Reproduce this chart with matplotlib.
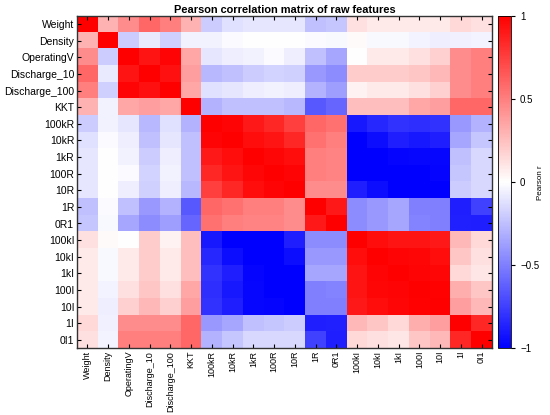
import numpy as np
import matplotlib.pyplot as plt

labels = ["Weight", "Density", "OperatingV", "Discharge_10", "Discharge_100", "KKT",
          "100kR", "10kR", "1kR", "100R", "10R", "1R", "0R1",
          "100kI", "10kI", "1kI", "100I", "10I", "1I", "0I1"]

# Pearson r (rows follow labels)
corr = [
    [1.00, 0.30, 0.45, 0.60, 0.50, 0.30, -0.20, -0.12, -0.10, -0.10, -0.10, -0.25, -0.22, 0.12, 0.08, 0.08, 0.08, 0.08, 0.15, 0.12],
    [0.30, 1.00, -0.20, -0.08, -0.18, -0.05, -0.05, -0.02, 0.00, 0.00, 0.00, -0.02, -0.03, 0.02, -0.03, -0.03, -0.04, -0.07, -0.06, -0.04],
    [0.45, -0.20, 1.00, 0.92, 0.98, 0.35, -0.10, -0.07, -0.05, -0.02, -0.07, -0.25, -0.35, 0.00, 0.08, 0.08, 0.12, 0.18, 0.45, 0.50],
    [0.60, -0.08, 0.92, 1.00, 0.93, 0.38, -0.28, -0.25, -0.20, -0.17, -0.18, -0.40, -0.45, 0.20, 0.20, 0.20, 0.22, 0.28, 0.45, 0.50],
    [0.50, -0.18, 0.98, 0.93, 1.00, 0.35, -0.12, -0.10, -0.07, -0.05, -0.07, -0.30, -0.38, 0.05, 0.08, 0.08, 0.12, 0.18, 0.45, 0.50],
    [0.30, -0.05, 0.35, 0.38, 0.35, 1.00, -0.30, -0.25, -0.25, -0.25, -0.28, -0.65, -0.60, 0.25, 0.25, 0.25, 0.35, 0.38, 0.60, 0.60],
    [-0.20, -0.05, -0.10, -0.28, -0.12, -0.30, 1.00, 0.98, 0.90, 0.85, 0.75, 0.60, 0.55, -0.90, -0.85, -0.80, -0.82, -0.80, -0.40, -0.30],
    [-0.12, -0.02, -0.07, -0.25, -0.10, -0.25, 0.98, 1.00, 0.95, 0.92, 0.85, 0.55, 0.50, -1.00, -0.95, -0.88, -0.90, -0.88, -0.35, -0.22],
    [-0.10, 0.00, -0.05, -0.20, -0.07, -0.25, 0.90, 0.95, 1.00, 0.97, 0.95, 0.50, 0.48, -1.00, -1.00, -0.98, -0.97, -0.97, -0.25, -0.15],
    [-0.10, 0.00, -0.02, -0.17, -0.05, -0.25, 0.85, 0.92, 0.97, 1.00, 0.98, 0.50, 0.48, -1.00, -1.00, -1.00, -1.00, -0.98, -0.22, -0.15],
    [-0.10, 0.00, -0.07, -0.18, -0.07, -0.28, 0.75, 0.85, 0.95, 0.98, 1.00, 0.45, 0.45, -0.88, -0.95, -1.00, -1.00, -1.00, -0.20, -0.15],
    [-0.25, -0.02, -0.25, -0.40, -0.30, -0.65, 0.60, 0.55, 0.50, 0.50, 0.45, 1.00, 0.90, -0.45, -0.40, -0.35, -0.50, -0.50, -0.88, -0.75],
    [-0.22, -0.03, -0.35, -0.45, -0.38, -0.60, 0.55, 0.50, 0.48, 0.48, 0.45, 0.90, 1.00, -0.45, -0.40, -0.35, -0.48, -0.50, -0.87, -0.88],
    [0.12, 0.02, 0.00, 0.20, 0.05, 0.25, -0.90, -1.00, -1.00, -1.00, -0.88, -0.45, -0.45, 1.00, 0.95, 0.92, 0.92, 0.90, 0.28, 0.15],
    [0.08, -0.03, 0.08, 0.20, 0.08, 0.25, -0.85, -0.95, -1.00, -1.00, -0.95, -0.40, -0.40, 0.95, 1.00, 0.98, 0.97, 0.95, 0.22, 0.12],
    [0.08, -0.03, 0.08, 0.20, 0.08, 0.25, -0.80, -0.88, -0.98, -1.00, -1.00, -0.35, -0.35, 0.92, 0.98, 1.00, 0.98, 0.97, 0.15, 0.10],
    [0.08, -0.04, 0.12, 0.22, 0.12, 0.35, -0.82, -0.90, -0.97, -1.00, -1.00, -0.50, -0.48, 0.92, 0.97, 0.98, 1.00, 0.99, 0.32, 0.22],
    [0.08, -0.07, 0.18, 0.28, 0.18, 0.38, -0.80, -0.88, -0.97, -0.98, -1.00, -0.50, -0.50, 0.90, 0.95, 0.97, 0.99, 1.00, 0.38, 0.28],
    [0.15, -0.06, 0.45, 0.45, 0.45, 0.60, -0.40, -0.35, -0.25, -0.22, -0.20, -0.88, -0.87, 0.28, 0.22, 0.15, 0.32, 0.38, 1.00, 0.85],
    [0.12, -0.04, 0.50, 0.50, 0.50, 0.60, -0.30, -0.22, -0.15, -0.15, -0.15, -0.75, -0.88, 0.15, 0.12, 0.10, 0.22, 0.28, 0.85, 1.00],
]

plt.rcParams['font.family'] = ['Liberation Sans', 'DejaVu Sans']
plt.rcParams['font.size'] = 7.5

fig = plt.figure(figsize=(5.5, 4.15), dpi=100)
ax = fig.add_axes([77 / 550, 67 / 415, 415 / 550, 332 / 415])
cax = fig.add_axes([498 / 550, 67 / 415, 13 / 550, 332 / 415])

data = np.array(corr)
im = ax.imshow(data, cmap='bwr', vmin=-1, vmax=1, aspect='auto', interpolation='nearest')

n = len(labels)
ax.set_xticks(np.arange(n))
ax.set_yticks(np.arange(n))
ax.set_xticklabels(labels, rotation=90, fontsize=6.5)
ax.set_yticklabels(labels, fontsize=7.5)
ax.tick_params(direction='in', length=3, width=0.8, top=True, right=True, pad=2)
for s in ax.spines.values():
    s.set_linewidth(1.0)
    s.set_color('#333333')

ax.set_title("Pearson correlation matrix of raw features", fontsize=7.9, fontweight='bold', pad=2)

cb = fig.colorbar(im, cax=cax, ticks=[-1, -0.5, 0, 0.5, 1])
cb.ax.set_yticklabels(["\u22121", "\u22120.5", "0", "0.5", "1"])
cb.ax.tick_params(direction='out', length=3, width=0.8, labelsize=7)
cb.outline.set_linewidth(0.6)
fig.text(541 / 550, 0.56, "Pearson r", rotation=90, fontsize=5.8, ha='center', va='center')

plt.savefig("out.png", dpi=100)
